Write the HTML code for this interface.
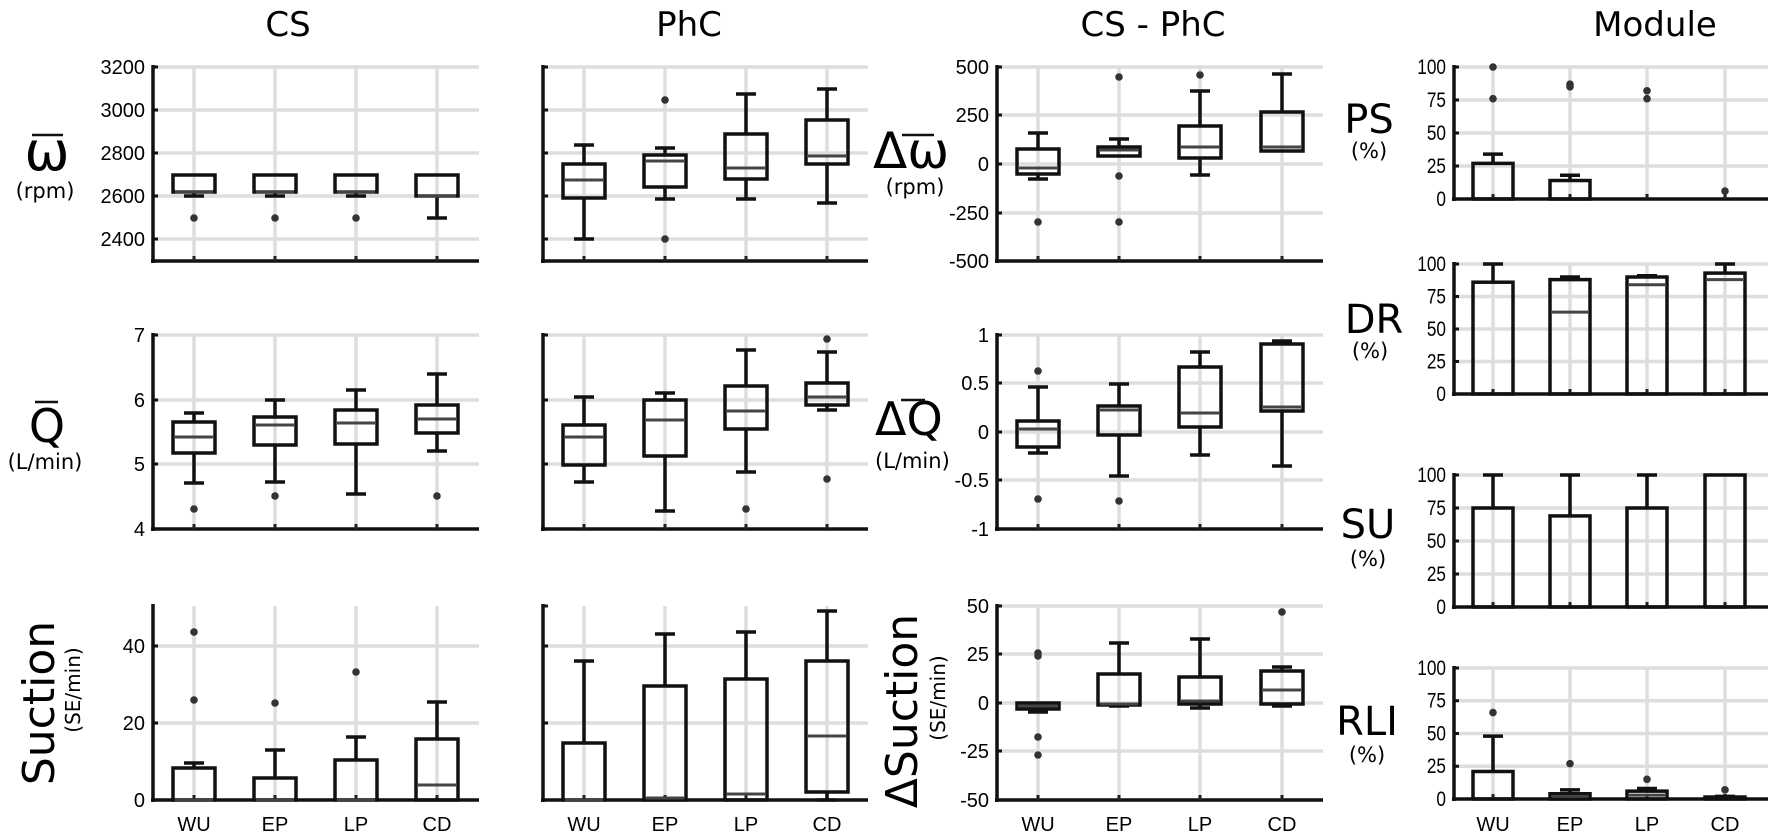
<!DOCTYPE html>
<html><head><meta charset="utf-8"><style>
body{margin:0;background:#fff;}
svg{display:block;font-family:"Liberation Sans","DejaVu Sans",sans-serif;}
.d{font-family:"DejaVu Sans","Liberation Sans",sans-serif;}
</style></head><body>
<svg id="s" width="1772" height="836" viewBox="0 0 1772 836" xmlns="http://www.w3.org/2000/svg"></svg>
<script>
var o=[];
function L(x1,y1,x2,y2,c,w){o.push('<line x1="'+x1+'" y1="'+y1+'" x2="'+x2+'" y2="'+y2+'" stroke="'+c+'" stroke-width="'+w+'"/>');}
function T(x,y,t,sz,anc,extra){o.push('<text x="'+x+'" y="'+y+'" font-size="'+sz+'" text-anchor="'+(anc||'middle')+'" '+(extra||'')+'>'+t+'</text>');}
function D(x,y,t,sz,anc,extra){T(x,y,t,sz,anc,'class="d" '+(extra||''));}
var cols=[{x0:153,x1:479,c:[194,275,356,437]},{x0:543,x1:868,c:[584,665,746,827]},{x0:997,x1:1323,c:[1038,1119,1200,1282]}];
function axes(x0,x1,y0,y1,cats,grids,ticks,narrow){
 grids.forEach(function(g){L(x0,g,x1,g,'#dedede',3.5);});
 cats.forEach(function(c){L(c,y0,c,y1,'#dedede',3.5);});
 L(x0,y0-2,x0,y1+2,'#111',3.5);L(x0-2,y1,x1,y1,'#111',3.5);
 cats.forEach(function(c){L(c,y1-5,c,y1,'#222',3);});
 if(ticks)ticks.forEach(function(t){L(x0,t[0],x0+5,t[0],'#111',3);T(x0-8,t[0]+7,t[1],narrow?21:20,'end',narrow?'transform="translate('+(x0-8)+' 0) scale(0.82 1) translate('+(-(x0-8))+' 0)"':'');});
 else grids.concat([y0,y1]).forEach(function(g){L(x0,g,x0+5,g,'#111',3);});
}
function box(cx,b,outs){
 var wt=b[0],q3=b[1],md=b[2],q1=b[3],wb=b[4],h=21,cw=10;
 if(wt<q3){L(cx,wt,cx,q3,'#111',3.5);L(cx-cw,wt,cx+cw,wt,'#111',3.5);}
 if(wb>q1){L(cx,q1,cx,wb,'#111',3.5);L(cx-cw,wb,cx+cw,wb,'#111',3.5);}
 o.push('<rect x="'+(cx-h)+'" y="'+q3+'" width="'+(2*h)+'" height="'+Math.max(q1-q3,1)+'" fill="none" stroke="#111" stroke-width="3.5"/>');
 L(cx-h+2,md,cx+h-2,md,'#444',3);
 (outs||[]).forEach(function(y){o.push('<circle cx="'+cx+'" cy="'+y+'" r="3.8" fill="#333"/>');});
}
axes(153,479,67,261,cols[0].c,[67,110,153,196,239],[[67,'3200'],[110,'3000'],[153,'2800'],[196,'2600'],[239,'2400']]);
[0,1,2].forEach(function(i){box(cols[0].c[i],[175,175,192,192,196],[218]);});
box(437,[175,175,196,196,218]);
axes(543,868,67,261,cols[1].c,[67,110,153,196,239],null);
box(584,[145,164,180,198,239]);box(665,[148,155,161,187,199],[100,239]);box(746,[94,134,168,179,199]);box(827,[89,120,156,164,203]);
axes(997,1323,67,261,cols[2].c,[67,115,164,213],[[67,'500'],[115,'250'],[164,'0'],[213,'-250'],[261,'-500']]);
box(1038,[133,149,168,174,179],[222]);box(1119,[139,147,150,156,156],[77,176,222]);box(1200,[91,126,147,158,175],[75]);box(1282,[74,112,147,151,151]);
axes(153,479,335,529,cols[0].c,[335,400,464],[[335,'7'],[400,'6'],[464,'5'],[529,'4']]);
box(194,[413,422,437,453,483],[509]);box(275,[400,417,425,445,482],[496]);box(356,[390,410,423,444,494]);box(437,[374,405,419,433,451],[496]);
axes(543,868,335,529,cols[1].c,[335,400,464],null);
box(584,[397,425,437,465,482]);box(665,[393,400,420,456,511]);box(746,[350,386,411,429,472],[509]);box(827,[352,383,397,405,410],[339,479]);
axes(997,1323,335,529,cols[2].c,[335,383,432,480],[[335,'1'],[383,'0.5'],[432,'0'],[480,'-0.5'],[529,'-1']]);
box(1038,[387,421,429,447,453],[371,499]);box(1119,[384,406,410,435,476],[501]);box(1200,[352,367,413,427,455]);box(1282,[341,344,407,411,466]);
axes(153,479,606,800,cols[0].c,[646,723],[[646,'40'],[723,'20'],[800,'0']]);
box(194,[763,768,800,800,800],[632,700]);box(275,[750,778,800,800,800],[703]);box(356,[737,760,800,800,800],[672]);box(437,[702,739,785,800,800]);
axes(543,868,606,800,cols[1].c,[646,723],null);
box(584,[661,743,800,800,800]);box(665,[634,686,798,800,800]);box(746,[632,679,794,800,800]);box(827,[611,661,736,792,800]);
axes(997,1323,606,800,cols[2].c,[606,654,703,751],[[606,'50'],[654,'25'],[703,'0'],[751,'-25'],[800,'-50']]);
box(1038,[703,703,706,709,712],[653,656,737,755]);box(1119,[643,674,704,705,706]);box(1200,[639,677,701,704,708]);box(1282,[667,671,690,704,706],[612]);
var c4=[1493,1570,1647,1725];
function bars(y0,y1,data){
 var k=(y1-y0)/100,g=[];for(var v=100;v>0;v-=25)g.push(y0+(100-v)*k);
 axes(1454,1768,y0,y1,c4,g,[[y0,'100'],[y0+25*k,'75'],[y0+50*k,'50'],[y0+75*k,'25'],[y1,'0']],true);
 data.forEach(function(d,i){var cx=c4[i],Y=function(v){return y1-v*k;};
  if(d[1]>d[0]){L(cx,Y(d[1]),cx,Y(d[0]),'#111',3.5);L(cx-10,Y(d[1]),cx+10,Y(d[1]),'#111',3.5);}
  if(d[0]>0)o.push('<rect x="'+(cx-20)+'" y="'+Y(d[0])+'" width="40" height="'+(d[0]*k)+'" fill="none" stroke="#111" stroke-width="3.5"/>');
  if(d[2]!=null)L(cx-18,Y(d[2]),cx+18,Y(d[2]),'#444',3);
  (d[3]||[]).forEach(function(v){o.push('<circle cx="'+cx+'" cy="'+Y(v)+'" r="3.8" fill="#333"/>');});
 });
}
bars(67,199,[[27,34,null,[100,76]],[14,18,null,[87,85]],[0,0,null,[82,76]],[0,0,null,[6]]]);
bars(264,394,[[86,100],[88,90,63],[90,91,84],[93,100,88]]);
bars(475,607,[[75,100],[69,100],[75,100],[100,100]]);
bars(668,799,[[21,48,null,[66]],[4,7,2,[27]],[6,8,3,[15]],[1.5,2,null,[7]]]);
// Titles
D(288,36,'CS',34);D(689,36,'PhC',34);D(1153,36,'CS - PhC',34);D(1655,36,'Module',34);
cols.map(function(c){return c.c;}).concat([c4]).forEach(function(cs){['WU','EP','LP','CD'].forEach(function(t,i){T(cs[i],831,t,20);});});
// col1 y labels
D(47,170,'ω',54);L(32,135,63,135,'#111',2.5);D(45,198,'(rpm)',21);
D(47,442,'Q',46);L(35,402,58,402,'#111',2.5);D(45,469,'(L/min)',21);
D(54,703,'Suction',44,'middle','transform="rotate(-90 54 703)"');D(80,690,'(SE/min)',20,'middle','transform="rotate(-90 80 690)"');
// col3 labels
D(873,168,'Δω',50,'start');L(902,135,934,135,'#111',2.5);D(915,194,'(rpm)',21);
D(875,435,'ΔQ',46,'start');L(901,400,925,400,'#111',2.5);D(875,468,'(L/min)',21,'start');
D(917,711,'ΔSuction',44,'middle','transform="rotate(-90 917 711)"');D(945,698,'(SE/min)',20,'middle','transform="rotate(-90 945 698)"');
// col4 labels
D(1369,133,'PS',40);D(1369,158,'(%)',21);
D(1374,333,'DR',40);D(1370,358,'(%)',21);
D(1368,538,'SU',40);D(1368,566,'(%)',21);
D(1367,735,'RLI',40);D(1367,762,'(%)',21);
document.getElementById('s').innerHTML=o.join('');
</script>
</body></html>
